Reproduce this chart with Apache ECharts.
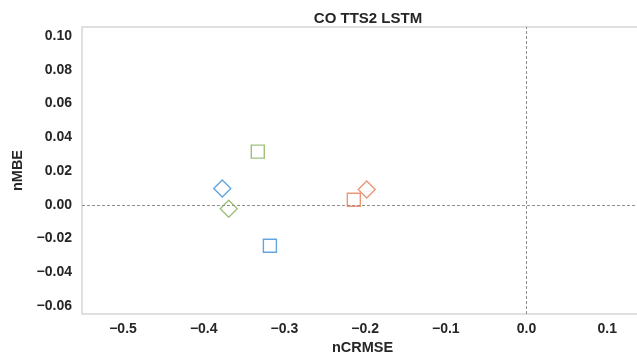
<!DOCTYPE html>
<html>
<head>
<meta charset="utf-8">
<title>CO TTS2 LSTM</title>
<script src="https://cdn.jsdelivr.net/npm/echarts@6/dist/echarts.min.js"></script>
<style>
  html, body { margin: 0; padding: 0; background: #ffffff; }
  #chart { width: 637px; height: 358px; }
</style>
</head>
<body>
<div id="chart"></div>
<script>
// Three model groups, each with a square (one setting) and a diamond (another setting)
const groupNames = ['A', 'B', 'C'];
const groupColors = ['#3f8fd2', '#84b25a', '#e57d55'];

// nCRMSE (x) and nMBE (y) for the square markers
const squareNcrmse = [-0.318, -0.333, -0.214];
const squareNmbe = [-0.0243, 0.0315, 0.0030];

// nCRMSE (x) and nMBE (y) for the diamond markers
const diamondNcrmse = [-0.377, -0.369, -0.198];
const diamondNmbe = [0.0097, -0.0024, 0.0090];

// Tick labels
const xTicks = [-0.5, -0.4, -0.3, -0.2, -0.1, 0.0, 0.1];
const yTicks = [-0.06, -0.04, -0.02, 0.00, 0.02, 0.04, 0.06, 0.08, 0.10];

const minus = s => s.replace('-', '\u2212');
const font = '"Liberation Sans", Arial, sans-serif';

const series = [];
groupNames.forEach((g, i) => {
  series.push({
    name: g + ' square',
    type: 'scatter',
    symbol: 'rect',
    symbolSize: 13,
    data: [[squareNcrmse[i], squareNmbe[i]]],
    itemStyle: { color: 'rgba(255,255,255,0)', borderColor: groupColors[i], borderWidth: 1.4 },
    z: 5
  });
  series.push({
    name: g + ' diamond',
    type: 'scatter',
    symbol: 'diamond',
    symbolSize: 17,
    data: [[diamondNcrmse[i], diamondNmbe[i]]],
    itemStyle: { color: 'rgba(255,255,255,0)', borderColor: groupColors[i], borderWidth: 1.4 },
    z: 5
  });
});

// Dashed zero reference lines
series.push({
  name: 'zero lines',
  type: 'scatter',
  data: [],
  silent: true,
  markLine: {
    silent: true,
    symbol: 'none',
    label: { show: false },
    lineStyle: { color: '#8f8f8f', type: [3, 2], width: 1 },
    data: [{ xAxis: 0 }, { yAxis: 0 }]
  },
  z: 1
});

const chart = echarts.init(document.getElementById('chart'), null, { renderer: 'canvas' });
chart.setOption({
  animation: false,
  backgroundColor: '#ffffff',
  title: {
    text: 'CO TTS2 LSTM',
    left: 363,
    top: 6,
    textAlign: 'center',
    textStyle: { fontFamily: font, fontWeight: 'bold', fontSize: 15, color: '#262626' }
  },
  // the plot area runs past the right edge of the page, so its right spine stays hidden
  grid: {
    left: 82, top: 27, right: -6, bottom: 44,
    outerBoundsMode: 'none',
    containLabel: false,
    show: true, borderColor: '#d6d6d6', borderWidth: 1.5, backgroundColor: '#ffffff'
  },
  xAxis: {
    type: 'value',
    min: -0.5508,
    max: 0.1443,
    name: 'nCRMSE',
    nameLocation: 'middle',
    nameGap: 19,
    nameTextStyle: { fontFamily: font, fontWeight: 'bold', fontSize: 14.5, color: '#262626' },
    splitLine: { show: false },
    axisLine: { show: false },
    axisTick: { show: false },
    axisLabel: {
      customValues: xTicks,
      formatter: v => minus(v.toFixed(1)),
      fontFamily: font, fontWeight: 'bold', fontSize: 14, color: '#262626', margin: 8
    }
  },
  yAxis: {
    type: 'value',
    min: -0.0647,
    max: 0.1053,
    name: 'nMBE',
    nameLocation: 'middle',
    nameGap: 50,
    nameTextStyle: { fontFamily: font, fontWeight: 'bold', fontSize: 14.5, color: '#262626' },
    splitLine: { show: false },
    axisLine: { show: false },
    axisTick: { show: false },
    axisLabel: {
      customValues: yTicks,
      formatter: v => minus(v.toFixed(2)),
      fontFamily: font, fontWeight: 'bold', fontSize: 14, color: '#262626', margin: 10
    }
  },
  series: series
});
</script>
</body>
</html>
